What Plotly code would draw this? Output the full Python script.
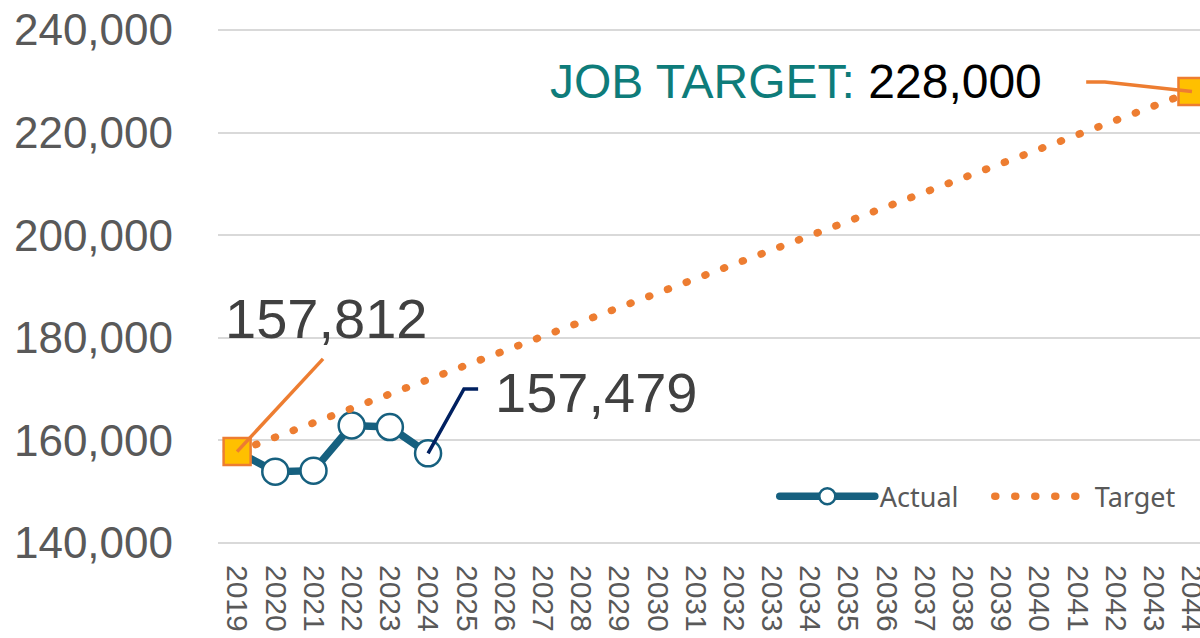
import plotly.graph_objects as go

years = [str(y) for y in range(2019, 2045)]
actual_years = ["2019", "2020", "2021", "2022", "2023", "2024"]
actual_values = [157812, 153900, 154100, 162900, 162600, 157479]
target_values = [157812, 160620, 163427, 166235, 169042, 171850, 174657, 177465,
                 180272, 183080, 185888, 188695, 191503, 194310, 197118, 199925,
                 202733, 205540, 208348, 211156, 213963, 216771, 219578, 222386,
                 225193, 228000]
y_ticks = [140000, 160000, 180000, 200000, 220000, 240000]

ACT = "#16607F"
ORG = "#ED7D31"
GOLD = "#FFC000"
NAVY = "#002060"
TEAL = "#0E7C7A"
GRAY = "#595959"
DARK = "#404040"

fig = go.Figure()
fig.add_trace(go.Scatter(
    x=actual_years, y=actual_values, name="Actual", mode="lines+markers",
    line=dict(color=ACT, width=7.5),
    marker=dict(symbol="circle", size=26, color="white", line=dict(color=ACT, width=2.5)),
))
fig.add_trace(go.Scatter(
    x=years, y=target_values, name="Target", mode="lines",
    line=dict(color=ORG, width=7.5, dash="1px,19px"),
))
fig.add_trace(go.Scatter(
    x=[years[0], years[-1]], y=[target_values[0], target_values[-1]],
    mode="markers", showlegend=False,
    marker=dict(symbol="square", size=27, color=GOLD, line=dict(color=ORG, width=2.5)),
))

# leader lines
fig.add_shape(type="line", xref="x", yref="y", x0=0, y0=target_values[0], x1=2.25, y1=175900,
              line=dict(color=ORG, width=3.5))
fig.add_shape(type="path", xref="x", yref="y",
              path=f"M 5,{actual_values[-1]} L 5.94,170020 L 6.31,170020",
              line=dict(color=NAVY, width=3.5))
fig.add_shape(type="path", xref="x", yref="y",
              path=f"M 22.23,229860 L 22.72,229860 L 25,{target_values[-1]}",
              line=dict(color=ORG, width=3.5))

fig.add_annotation(x=-0.37, y=183860, xref="x", yref="y", text="157,812", showarrow=False,
                   xanchor="left", yanchor="middle",
                   font=dict(family="Liberation Sans", size=56, color=DARK))
fig.add_annotation(x=6.70, y=169240, xref="x", yref="y", text="157,479", showarrow=False,
                   xanchor="left", yanchor="middle",
                   font=dict(family="Liberation Sans", size=56, color=DARK))
fig.add_annotation(x=8.15, y=230060, xref="x", yref="y",
                   text=f"<span style='color:{TEAL}'>JOB TARGET:</span> 228,000",
                   showarrow=False, xanchor="left", yanchor="middle",
                   font=dict(family="Liberation Sans", size=48, color="#000000"))

fig.update_layout(
    width=1200, height=638,
    margin=dict(l=218, r=0, t=29, b=94, autoexpand=False),
    paper_bgcolor="white", plot_bgcolor="white",
    showlegend=True,
    legend=dict(orientation="h", x=0.567, y=0.092, xanchor="left", yanchor="middle",
                itemwidth=95, entrywidth=105,
                font=dict(family="Noto Sans", size=27, color=GRAY),
                bgcolor="rgba(0,0,0,0)"),
    xaxis=dict(type="category", categoryorder="array", categoryarray=years,
               range=[-0.5, 25.21], tickangle=90, showgrid=False, zeroline=False,
               showline=False, ticklabelstandoff=20, automargin=False,
               tickfont=dict(family="Liberation Sans", size=30, color=GRAY)),
    yaxis=dict(range=[139800, 240200], tickvals=y_ticks, tickformat=",d",
               showgrid=True, gridcolor="#D9D9D9", gridwidth=2, zeroline=False,
               showline=False, ticklabelstandoff=44, automargin=False,
               tickfont=dict(family="Liberation Sans", size=44, color=GRAY)),
)

post = """
var s = document.createElement('style');
s.textContent = 'html, body { margin: 0; padding: 0; overflow: hidden; } svg path.js-line { stroke-linecap: round; }';
document.head.appendChild(s);
"""
fig.write_html("out.html", post_script=post, config={"displayModeBar": False})
